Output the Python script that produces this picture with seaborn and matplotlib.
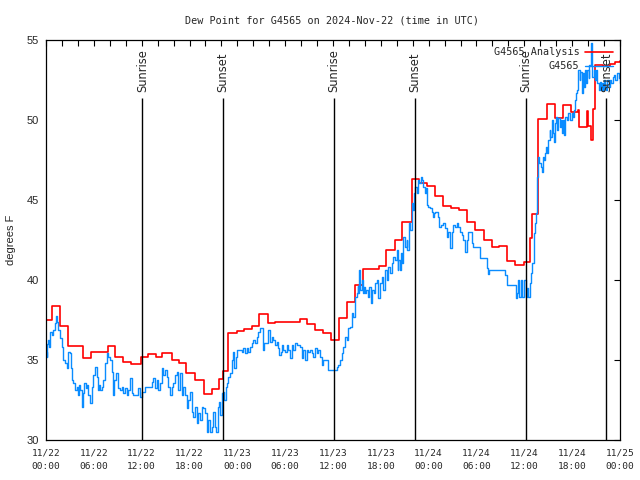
import matplotlib
matplotlib.use('Agg')
import matplotlib.pyplot as plt
import seaborn as sns
from matplotlib.ticker import MultipleLocator

# hours since 2024-11-22 00:00 UTC
red_hours = [0, 0.7, 1.7, 2.7, 4.7, 5.7, 7.8, 8.7, 9.7, 10.7, 11.9, 12.8, 13.8, 14.6,
             15.8, 16.7, 17.6, 18.7, 19.8, 20.8, 21.7, 22.2, 22.8, 23.9, 24.8, 25.8,
             26.7, 27.8, 28.7, 29.7, 31.8, 32.8, 33.8, 34.7, 35.8, 36.8, 37.8, 38.8,
             39.8, 41.8, 42.7, 43.8, 44.7, 45.9, 46.8, 47.8, 48.8, 49.8, 50.8, 51.8,
             52.8, 53.8, 54.9, 55.9, 56.8, 57.8, 58.8, 59.9, 60.75, 60.95, 61.75, 62.8,
             63.8, 64.8, 65.9, 66.7, 66.9, 67.8, 68.0, 68.4, 68.6, 68.9, 69.9, 70.8,
             71.4, 72.0]
red_values = [37.5, 38.4, 37.1, 35.9, 35.15, 35.5, 35.85, 35.2, 34.9, 34.75, 35.2, 35.35, 35.2, 35.45,
              35.0, 34.8, 34.2, 33.75, 32.85, 33.2, 33.8, 34.3, 36.7, 36.8, 36.95, 37.1,
              37.85, 37.3, 37.35, 37.4, 37.55, 37.25, 36.9, 36.7, 36.25, 37.6, 38.6, 39.7,
              40.7, 40.9, 41.9, 42.5, 43.6, 46.3, 46.05, 45.9, 45.25, 44.65, 44.5, 44.35,
              43.65, 43.1, 42.5, 42.05, 42.15, 41.2, 40.95, 41.1, 42.6, 44.1, 50.05, 51.0,
              50.1, 50.95, 50.5, 50.65, 49.55, 50.55, 49.6, 48.75, 50.7, 53.45, 53.4, 53.5,
              53.65, 53.7]

blue_hours = [0.0, 0.08, 0.15, 0.29, 0.4, 0.5, 0.71, 0.92, 1.13, 1.25, 1.34, 1.55, 1.76, 1.97,
              2.17, 2.38, 2.59, 2.8, 3.01, 3.14, 3.3, 3.43, 3.64, 3.85, 3.97, 4.14, 4.27, 4.48,
              4.68, 4.81, 4.98, 5.1, 5.31, 5.52, 5.73, 5.94, 6.15, 6.36, 6.48, 6.65, 6.78, 6.98,
              7.19, 7.4, 7.61, 7.82, 8.03, 8.24, 8.36, 8.53, 8.74, 9.08, 9.28, 9.49, 9.7, 9.91,
              10.12, 10.33, 10.54, 10.75, 10.96, 11.58, 11.79, 12.0, 12.42, 13.26, 13.47, 13.68,
              13.89, 14.09, 14.3, 14.51, 14.72, 14.93, 15.14, 15.35, 15.56, 15.77, 15.98, 16.19,
              16.39, 16.6, 16.81, 17.02, 17.23, 17.44, 17.65, 17.86, 18.07, 18.28, 18.49, 18.7,
              18.9, 19.11, 19.32, 19.53, 19.74, 19.95, 20.16, 20.37, 20.58, 20.79, 21.0, 21.2,
              21.33, 21.54, 21.71, 21.83, 22.04, 22.25, 22.38, 22.54, 22.67, 22.88, 23.09, 23.3,
              23.42, 23.59, 23.8, 24.01, 24.55, 24.77, 24.98, 25.18, 25.39, 25.6, 25.81, 26.01,
              26.22, 26.43, 26.64, 26.85, 27.19, 27.39, 27.9, 28.1, 28.31, 28.52, 28.73, 28.94,
              29.15, 29.28, 29.44, 29.57, 29.78, 29.99, 30.2, 30.41, 30.62, 30.83, 31.04, 31.25,
              31.46, 31.87, 32.08, 32.29, 32.5, 32.71, 32.92, 33.13, 33.34, 33.55, 33.76, 33.96,
              34.17, 34.38, 34.59, 34.8, 35.42, 36.47, 36.68, 36.89, 37.1, 37.31, 37.52, 37.73,
              37.94, 38.14, 38.35, 38.56, 38.77, 38.98, 39.1, 39.19, 39.31, 39.44, 39.6, 39.73,
              39.86, 40.02, 40.19, 40.36, 40.57, 40.74, 40.95, 41.11, 41.28, 41.49, 41.7, 41.91,
              42.11, 42.32, 42.53, 42.74, 42.95, 43.16, 43.37, 43.58, 43.79, 44.0, 44.1, 44.21,
              44.42, 44.5, 44.63, 44.83, 45.04, 45.25, 45.33, 45.54, 45.67, 45.88, 46.0, 46.17,
              46.34, 46.5, 46.67, 46.84, 47.01, 47.17, 47.34, 47.51, 47.64, 47.76, 47.97, 48.18,
              48.39, 48.51, 48.68, 48.85, 49.18, 49.35, 49.56, 49.85, 50.06, 50.27, 50.48, 50.69,
              50.9, 51.1, 51.31, 51.52, 51.73, 51.94, 52.15, 52.36, 52.57, 52.78, 52.99, 53.41,
              53.61, 54.45, 55.29, 55.45, 55.55, 57.59, 57.8, 58.97, 59.14, 59.26, 59.39, 59.56,
              59.77, 60.02, 60.23, 60.35, 60.52, 60.73, 60.85, 61.02, 61.15, 61.27, 61.35, 61.48,
              61.56, 61.65, 61.77, 61.9, 62.03, 62.19, 62.32, 62.44, 62.61, 62.74, 62.86, 63.03,
              63.16, 63.28, 63.45, 63.57, 63.7, 63.87, 63.99, 64.12, 64.28, 64.45, 64.58, 64.7,
              64.83, 65.0, 65.12, 65.33, 65.54, 65.75, 65.96, 66.08, 66.21, 66.38, 66.5, 66.59,
              66.71, 66.79, 66.92, 67.04, 67.21, 67.34, 67.46, 67.63, 67.76, 67.88, 68.05, 68.17,
              68.3, 68.4, 68.45, 68.55, 68.72, 68.89, 69.01, 69.14, 69.31, 69.43, 69.56, 69.72,
              69.85, 69.97, 70.14, 70.27, 70.39, 70.56, 70.77, 70.9, 71.06, 71.23, 71.4, 71.61,
              71.82, 72.0]
blue_values = [35.5, 35.2, 36.0, 36.25, 35.8, 36.77, 36.56, 36.88, 37.29, 37.75, 37.4, 36.88, 36.35, 35.83,
               35.0, 34.79, 34.48, 35.52, 35.42, 34.48, 33.75, 33.54, 33.13, 33.33, 32.81, 33.44, 33.13, 32.08,
               32.92, 33.54, 33.23, 33.44, 32.81, 32.29, 33.33, 34.06, 34.58, 33.96, 33.13, 33.44, 33.13, 33.33,
               33.75, 34.79, 35.42, 35.21, 35.0, 34.27, 32.81, 33.75, 34.17, 33.23, 33.13, 33.33, 32.92, 33.23,
               32.81, 33.13, 33.85, 32.92, 32.81, 33.23, 32.71, 33.02, 33.33, 33.65, 33.85, 33.23,
               33.75, 33.13, 33.54, 34.48, 34.06, 34.38, 33.96, 33.33, 32.81, 33.33, 33.54, 34.06,
               34.27, 33.13, 34.17, 32.81, 33.33, 32.81, 31.98, 32.5, 33.02, 31.77, 31.46, 32.08,
               31.04, 31.67, 31.25, 32.08, 31.98, 31.67, 30.52, 31.25, 30.52, 30.83, 31.77, 30.83,
               30.52, 32.08, 32.4, 31.56, 32.92, 33.02, 32.5, 33.33, 33.54, 33.96, 34.17, 35.0,
               35.52, 34.48, 35.21, 35.63, 35.52, 35.73, 35.42, 35.73, 35.52, 35.83, 36.04, 36.25,
               36.04, 36.46, 36.77, 36.98, 35.63, 36.04, 36.88, 36.15, 36.46, 36.25, 35.94, 36.15,
               35.73, 35.31, 35.52, 35.94, 35.63, 35.52, 35.94, 35.63, 35.1, 35.94, 35.63, 36.04,
               35.94, 35.83, 35.1, 35.63, 35.0, 35.63, 35.52, 35.63, 35.42, 35.21, 35.73, 35.42,
               35.63, 35.21, 34.69, 35.0, 34.38, 34.58, 34.69, 35.0, 35.42, 35.83, 36.46, 36.25,
               36.98, 37.08, 37.92, 37.71, 38.96, 39.17, 39.6, 39.17, 40.63, 39.38, 40.0, 39.17,
               39.58, 39.17, 39.38, 38.96, 39.58, 38.54, 39.38, 39.17, 39.79, 40.0, 38.85, 39.79,
               40.21, 39.38, 40.63, 40.0, 40.83, 40.42, 41.04, 41.46, 41.25, 41.88, 40.6, 41.25,
               40.63, 41.67, 41.04, 42.71, 42.08, 42.5, 41.88, 43.54, 43.13, 44.79, 44.38, 45.42,
               45.83, 45.42, 46.25, 46.04, 46.46, 46.25, 45.83, 45.42, 45.73, 44.69, 44.58, 44.48,
               44.27, 43.96, 44.17, 44.27, 43.96, 43.33, 43.44, 43.54, 43.23, 42.71, 43.02, 41.98,
               43.02, 43.44, 43.33, 43.54, 43.33, 43.02, 42.81, 42.5, 41.77, 42.5, 43.02, 42.29,
               42.08, 41.35, 40.73, 40.4, 40.6, 40.31, 39.69, 38.85, 39.17, 40.0, 38.96, 40.0,
               38.96, 40.0, 38.96, 39.48, 38.96, 39.79, 40.42, 41.04, 42.08, 42.92, 43.54, 44.17,
               45.63, 46.46, 47.71, 47.29, 47.08, 46.77, 47.71, 47.5, 47.92, 48.33, 47.92, 48.75,
               49.38, 48.96, 50.0, 49.17, 48.65, 49.79, 50.21, 49.38, 50.1, 49.58, 50.0, 49.17,
               50.0, 49.06, 50.21, 50.0, 50.42, 50.0, 50.42, 50.21, 50.63, 51.25, 51.67, 51.88,
               52.5, 53.13, 52.5, 53.02, 51.67, 52.92, 52.08, 53.13, 52.29, 53.13, 52.6, 53.44,
               53.75, 54.8, 53.2, 52.71, 53.13, 52.5, 53.13, 52.29, 51.88, 52.4, 51.88, 52.29,
               51.88, 52.5, 52.08, 51.88, 52.5, 52.08, 52.5, 52.29, 52.71, 52.81, 52.5, 52.92,
               52.6, 52.29]

sun_hours = [12.08, 22.22, 36.12, 46.28, 60.15, 70.3]
sun_labels = ['Sunrise', 'Sunset', 'Sunrise', 'Sunset', 'Sunrise', 'Sunset']

tick_hours = list(range(0, 73, 6))
tick_labels = ['11/22\n00:00', '11/22\n06:00', '11/22\n12:00', '11/22\n18:00',
               '11/23\n00:00', '11/23\n06:00', '11/23\n12:00', '11/23\n18:00',
               '11/24\n00:00', '11/24\n06:00', '11/24\n12:00', '11/24\n18:00',
               '11/25\n00:00']

sns.set_style('white')
plt.rcParams['font.family'] = ['DejaVu Sans Mono']

fig = plt.figure(figsize=(6.4, 4.8), dpi=100)
ax = fig.add_axes([46 / 640, 40 / 480, 574 / 640, 400 / 480])

sns.lineplot(x=red_hours, y=red_values, drawstyle='steps-post', color='#ff0000',
             lw=1.2, label='G4565 Analysis', ax=ax, estimator=None)
sns.lineplot(x=blue_hours, y=blue_values, drawstyle='steps-post', color='#0a8cff',
             lw=1.0, label='G4565', ax=ax, estimator=None)

ax.vlines(sun_hours, 30, 51.4, color='black', lw=1)
for h, lab in zip(sun_hours, sun_labels):
    ax.text(h, 51.75, lab, rotation=90, ha='center', va='bottom',
            family='DejaVu Sans', fontsize=8.3)

ax.set_xlim(0, 72)
ax.set_ylim(30, 55)
ax.set_xticks(tick_hours)
ax.set_xticklabels(tick_labels, fontsize=6.8, linespacing=1.6)
ax.xaxis.set_minor_locator(MultipleLocator(2))
ax.set_yticks([30, 35, 40, 45, 50, 55])
for t in ax.get_yticklabels():
    t.set_family('Liberation Sans')
    t.set_fontsize(8)
ax.tick_params(axis='both', which='both', direction='in', top=True, right=True,
               length=4, width=0.8, color='black')
ax.tick_params(axis='x', pad=6)
ax.tick_params(axis='y', pad=5)
for s in ax.spines.values():
    s.set_color('black')
    s.set_linewidth(0.9)

ax.set_ylabel('degrees F', family='Liberation Sans', fontsize=8, labelpad=8)
ax.set_xlabel('')
fig.suptitle('Dew Point for G4565 on 2024-Nov-22 (time in UTC)', y=0.968,
             fontsize=7.3, x=332 / 640)

leg = ax.legend(loc='upper right', frameon=False, markerfirst=False, fontsize=7.3,
                handlelength=2.8, handletextpad=0.5, labelspacing=0.4,
                borderaxespad=0.6, borderpad=0.1)

fig.savefig('out.png', dpi=100)
